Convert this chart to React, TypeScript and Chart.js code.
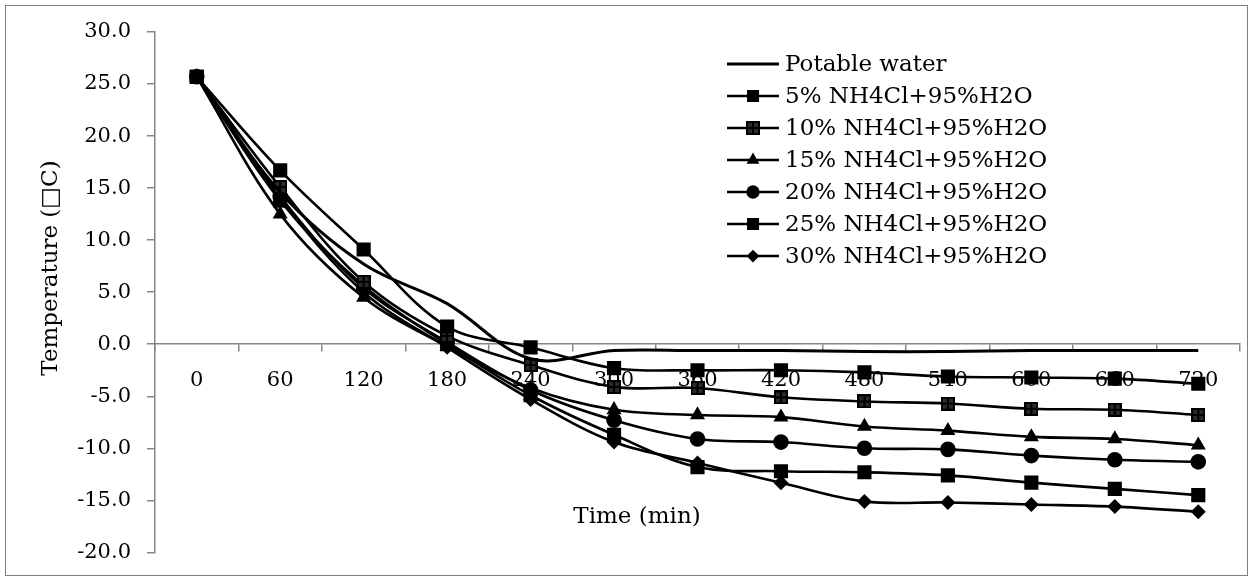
import { useEffect, useRef } from 'react';
import { Chart, registerables } from 'chart.js';
import { drawPoint } from 'chart.js/helpers';

Chart.register(...registerables);

const timeLabels = ['0', '60', '120', '180', '240', '300', '360', '420', '480', '540', '600', '660', '720'];

const potableWater = [25.7, 14.6, 7.7, 3.9, -1.4, -0.6, -0.6, -0.6, -0.7, -0.7, -0.6, -0.6, -0.6];
const nh4cl5 = [25.7, 16.7, 9.1, 1.7, -0.3, -2.3, -2.5, -2.5, -2.7, -3.1, -3.2, -3.3, -3.8];
const nh4cl10 = [25.7, 15.1, 6.0, 0.8, -2.0, -4.1, -4.2, -5.1, -5.5, -5.7, -6.2, -6.3, -6.8];
const nh4cl15 = [25.7, 12.5, 4.5, -0.2, -4.2, -6.3, -6.8, -7.0, -7.9, -8.3, -8.9, -9.1, -9.7];
const nh4cl20 = [25.7, 14.2, 5.4, 0.2, -4.4, -7.3, -9.1, -9.4, -10.0, -10.1, -10.7, -11.1, -11.3];
const nh4cl25 = [25.7, 13.8, 5.6, 0.0, -4.9, -8.7, -11.8, -12.2, -12.3, -12.6, -13.3, -13.9, -14.5];
const nh4cl30 = [25.7, 14.0, 5.0, -0.3, -5.3, -9.4, -11.4, -13.3, -15.1, -15.2, -15.4, -15.6, -16.1];

const seriesNames = [
  'Potable water',
  '5% NH4Cl+95%H2O',
  '10% NH4Cl+95%H2O',
  '15% NH4Cl+95%H2O',
  '20% NH4Cl+95%H2O',
  '25% NH4Cl+95%H2O',
  '30% NH4Cl+95%H2O',
];

const yAxisTitle = 'Temperature (\u25A1C)';
const xAxisTitle = 'Time (min)';

const FONT = 'DejaVu Serif';
const AXIS_GRAY = '#868686';

function makeCheckered(size: number): HTMLCanvasElement {
  const c = document.createElement('canvas');
  c.width = size;
  c.height = size;
  const g = c.getContext('2d')!;
  g.fillStyle = '#000';
  g.fillRect(0, 0, size, size);
  g.fillStyle = '#2b2b2b';
  const h = size / 2;
  g.fillRect(2, 2, h - 3, h - 3);
  g.fillRect(h + 1, 2, h - 3, h - 3);
  g.fillRect(2, h + 1, h - 3, h - 3);
  g.fillRect(h + 1, h + 1, h - 3, h - 3);
  return c;
}

export default function App() {
  const ref = useRef<HTMLCanvasElement | null>(null);

  useEffect(() => {
    document.body.style.margin = '0';
    const canvas = ref.current;
    if (!canvas) return;
    const checkered = makeCheckered(14);

    const styles: any[] = [
      { pointStyle: 'circle', pointRadius: 0 },
      { pointStyle: 'rect', pointRadius: 10 },
      { pointStyle: checkered, pointRadius: 7 },
      { pointStyle: 'triangle', pointRadius: 8.7 },
      { pointStyle: 'circle', pointRadius: 7.8 },
      { pointStyle: 'rect', pointRadius: 10 },
      { pointStyle: 'rectRot', pointRadius: 7.5 },
    ];
    const values = [potableWater, nh4cl5, nh4cl10, nh4cl15, nh4cl20, nh4cl25, nh4cl30];

    const datasets = values.map((d, i) => ({
      label: seriesNames[i],
      data: d,
      borderColor: '#000',
      backgroundColor: '#000',
      borderWidth: i === 0 ? 3 : 2.6,
      pointStyle: styles[i].pointStyle,
      pointRadius: styles[i].pointRadius,
      pointBackgroundColor: '#000',
      pointBorderColor: '#000',
      pointBorderWidth: 0,
      tension: 0.35,
      fill: false,
    }));

    const overlay = {
      id: 'overlay',
      afterDraw(chart: any) {
        const ctx = chart.ctx as CanvasRenderingContext2D;
        ctx.save();
        ctx.strokeStyle = '#7f7f7f';
        ctx.lineWidth = 1;
        ctx.strokeRect(5.5, 5.5, 1242, 570);

        ctx.fillStyle = '#000';
        ctx.font = `23px "${FONT}"`;
        ctx.textAlign = 'center';
        ctx.textBaseline = 'middle';
        ctx.fillText(xAxisTitle, 637, 517);

        ctx.save();
        ctx.translate(51, 268);
        ctx.rotate(-Math.PI / 2);
        ctx.fillText(yAxisTitle, 0, 0);
        ctx.restore();

        ctx.textAlign = 'left';
        for (let i = 0; i < seriesNames.length; i++) {
          const y = 64 + i * 32;
          ctx.strokeStyle = '#000';
          ctx.lineWidth = i === 0 ? 3 : 2.6;
          ctx.beginPath();
          ctx.moveTo(727, y);
          ctx.lineTo(779, y);
          ctx.stroke();
          if (styles[i].pointRadius > 0) {
            ctx.fillStyle = '#000';
            ctx.strokeStyle = '#000';
            drawPoint(ctx, { pointStyle: styles[i].pointStyle, radius: styles[i].pointRadius * 0.85, borderWidth: 0, rotation: 0 } as any, 753, y);
          }
          ctx.fillStyle = '#000';
          ctx.fillText(seriesNames[i], 785, y + 1);
        }
        ctx.restore();
      },
    };

    const chart = new Chart(canvas, {
      type: 'line',
      data: { labels: timeLabels, datasets },
      options: {
        animation: false,
        responsive: false,
        maintainAspectRatio: false,
        layout: { padding: { left: 0, right: 13, top: 32, bottom: 27 } },
        plugins: { legend: { display: false }, tooltip: { enabled: false } },
        scales: {
          x: {
            type: 'category',
            position: { y: 0 } as any,
            offset: true,
            grid: {
              display: true,
              drawOnChartArea: false,
              drawTicks: true,
              tickLength: 7,
              color: AXIS_GRAY,
              lineWidth: 1.5,
              offset: true,
            },
            border: { display: true, color: AXIS_GRAY, width: 1.5 },
            ticks: {
              color: '#000',
              font: { family: FONT, size: 21 },
              padding: 17,
              maxRotation: 0,
              autoSkip: false,
            },
          },
          y: {
            type: 'linear',
            min: -20,
            max: 30,
            ticks: {
              stepSize: 5,
              color: '#000',
              font: { family: FONT, size: 21 },
              padding: 16,
              callback: (v: any) => Number(v).toFixed(1),
            },
            grid: {
              display: true,
              drawOnChartArea: false,
              drawTicks: true,
              tickLength: 8,
              color: AXIS_GRAY,
              lineWidth: 1.5,
            },
            border: { display: true, color: AXIS_GRAY, width: 1.5 },
            afterFit: (s: any) => {
              s.width = 155;
            },
          },
        },
      },
      plugins: [overlay],
    });

    return () => chart.destroy();
  }, []);

  return (
    <div style={{ width: 1253, height: 581, position: 'relative', background: '#fff' }}>
      <canvas ref={ref} width={1253} height={581} style={{ display: 'block' }} />
    </div>
  );
}
